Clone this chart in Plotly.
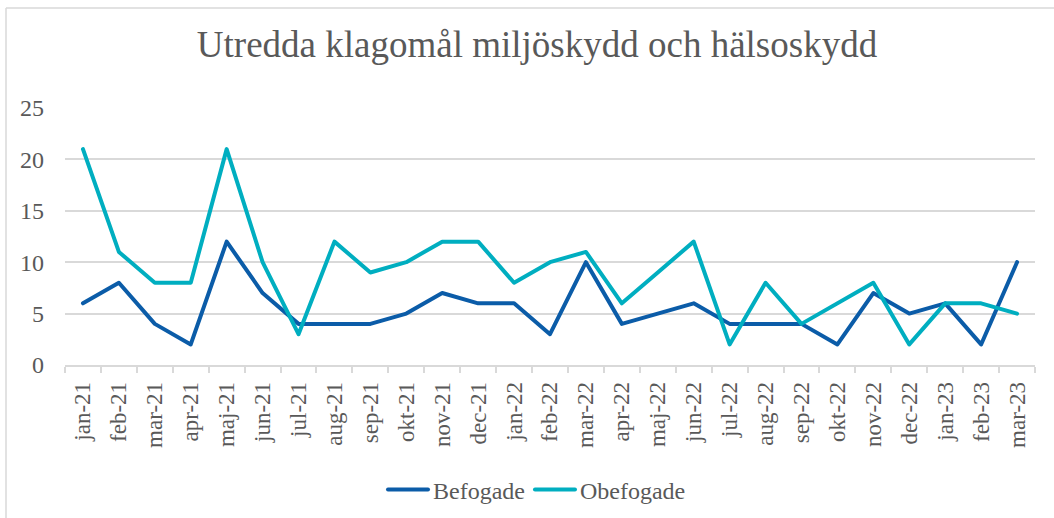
import plotly.graph_objects as go

months = ["jan-21", "feb-21", "mar-21", "apr-21", "maj-21", "jun-21", "jul-21", "aug-21", "sep-21",
          "okt-21", "nov-21", "dec-21", "jan-22", "feb-22", "mar-22", "apr-22", "maj-22", "jun-22",
          "jul-22", "aug-22", "sep-22", "okt-22", "nov-22", "dec-22", "jan-23", "feb-23", "mar-23"]
befogade = [6, 8, 4, 2, 12, 7, 4, 4, 4, 5, 7, 6, 6, 3, 10, 4, 5, 6, 4, 4, 4, 2, 7, 5, 6, 2, 10]
obefogade = [21, 11, 8, 8, 21, 10, 3, 12, 9, 10, 12, 12, 8, 10, 11, 6, 9, 12, 2, 8, 4, 6, 8, 2, 6, 6, 5]
y_ticks = [0, 5, 10, 15, 20, 25]

FONT = "Liberation Serif, Times New Roman, serif"
GRAY = "#595959"

fig = go.Figure()
fig.add_trace(go.Scatter(x=months, y=befogade, mode="lines", name="Befogade",
                         line=dict(color="#0B5CA8", width=4)))
fig.add_trace(go.Scatter(x=months, y=obefogade, mode="lines", name="Obefogade",
                         line=dict(color="#00AEC0", width=4)))

W, H = 1054, 518
L, R, T, B = 65, 19, 108, 153
pw, ph = W - L - R, H - T - B

def px_to_paper_x(px):
    return (px - L) / pw

def px_to_paper_y(py):
    return (H - B - py) / ph

fig.update_layout(
    width=W, height=H,
    margin=dict(l=L, r=R, t=T, b=B),
    paper_bgcolor="white", plot_bgcolor="white",
    font=dict(family=FONT, color=GRAY, size=24),
    title=dict(text="Utredda klagomål miljöskydd och hälsoskydd",
               font=dict(family=FONT, size=37, color=GRAY),
               x=537 / W, xanchor="center", xref="container",
               y=1 - 44 / H, yanchor="middle", yref="container"),
    showlegend=True,
    legend=dict(orientation="h", x=537 / W, xanchor="center", xref="container",
                y=1 - 490 / H, yanchor="middle", yref="container",
                font=dict(family=FONT, size=24, color=GRAY),
                itemwidth=40, tracegroupgap=0),
    xaxis=dict(type="category", range=[-0.5, len(months) - 0.5],
               tickangle=-90, showgrid=False,
               showline=True, linecolor="#D9D9D9", linewidth=1.5,
               ticks="outside", tickson="boundaries", ticklen=6, tickcolor="#D9D9D9",
               tickwidth=1.5, ticklabelstandoff=6,
               tickfont=dict(family=FONT, size=23, color=GRAY)),
    yaxis=dict(range=[0, 25], tickvals=y_ticks, showgrid=True, gridcolor="#D9D9D9",
               gridwidth=1.5, zeroline=False, showline=False,
               ticklabelstandoff=20,
               tickfont=dict(family=FONT, size=24, color=GRAY)),
    shapes=[
        dict(type="line", xref="paper", yref="paper",
             x0=px_to_paper_x(6), x1=px_to_paper_x(1054), y0=px_to_paper_y(8), y1=px_to_paper_y(8),
             line=dict(color="#D9D9D9", width=1.5)),
        dict(type="line", xref="paper", yref="paper",
             x0=px_to_paper_x(6), x1=px_to_paper_x(6), y0=px_to_paper_y(8), y1=px_to_paper_y(518),
             line=dict(color="#D9D9D9", width=1.5)),
    ],
)

post = (
    "document.body.style.margin='0';"
    "var st=document.createElement('style');"
    "st.textContent='.js-line{stroke-linejoin:round !important;stroke-linecap:round !important;}';"
    "document.head.appendChild(st);"
)
fig.write_html("out.html", config={"displayModeBar": False}, post_script=post)
